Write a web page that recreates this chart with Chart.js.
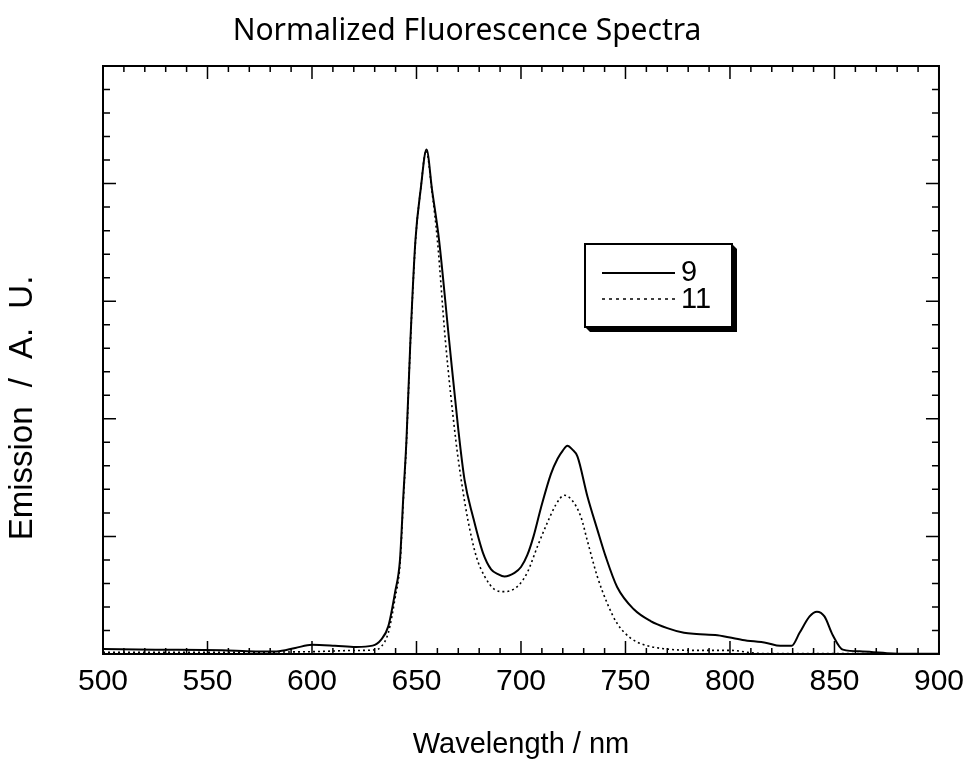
<!DOCTYPE html>
<html>
<head>
<meta charset="utf-8">
<script src="https://cdn.jsdelivr.net/npm/chart.js@4.4.1/dist/chart.umd.min.js"></script>
<style>
  html, body { margin: 0; padding: 0; background: #fff; }
  #wrap { width: 974px; height: 762px; position: relative; }
</style>
</head>
<body>
<div id="wrap"><canvas id="spectra"></canvas></div>
<script>
const chartTitle = 'Normalized Fluorescence Spectra';
const xTitle = 'Wavelength / nm';
const yTitle = 'Emission / A. U.';
const seriesNames = ['9', '11'];

// compound 9 (solid)
const wl9 = [500, 525, 557, 573, 583, 592, 600, 611, 621, 629, 633, 636.5, 639.7, 642.1, 643.7, 645.2, 647.1, 649.5, 652, 654.8, 657.5, 660.8, 665.6, 670, 673, 677, 681.8, 685.7, 689, 692.1, 696.9, 700, 703, 706, 709.5, 714.3, 717.5, 720, 722.2, 724.5, 727, 731.8, 736.5, 740.5, 746, 754, 762, 770, 778, 784, 794, 806, 817.5, 824, 829.5, 833.3, 838.1, 841.6, 845.2, 849.2, 854, 863.5, 878, 892, 900];
const em9 = [0.042, 0.037, 0.031, 0.022, 0.022, 0.051, 0.079, 0.071, 0.06, 0.071, 0.12, 0.235, 0.52, 0.80, 1.34, 1.82, 2.67, 3.52, 3.95, 4.29, 3.94, 3.52, 2.67, 1.91, 1.48, 1.17, 0.86, 0.72, 0.68, 0.66, 0.69, 0.74, 0.84, 1.0, 1.24, 1.53, 1.66, 1.73, 1.77, 1.74, 1.68, 1.34, 1.06, 0.83, 0.57, 0.38, 0.28, 0.22, 0.18, 0.17, 0.16, 0.12, 0.094, 0.07, 0.07, 0.18, 0.32, 0.36, 0.32, 0.16, 0.037, 0.022, 0.005, 0.002, 0.002];

// compound 11 (dotted)
const wl11 = [500, 550, 600, 620, 630, 633, 636.5, 639.7, 642.1, 643.7, 645.2, 647.1, 649.5, 652, 654.6, 657.5, 660, 663.8, 668.8, 671.4, 674.6, 678.6, 682.6, 687.3, 692.1, 695.2, 699.2, 703.2, 708, 712.7, 716.7, 720.7, 723.8, 728.6, 731.8, 736.5, 741.3, 746, 752.4, 758.8, 768.3, 784, 800, 814, 850, 900];
const em11 = [0.015, 0.015, 0.02, 0.03, 0.035, 0.06, 0.18, 0.47, 0.76, 1.30, 1.80, 2.65, 3.50, 3.95, 4.28, 3.92, 3.52, 2.67, 1.82, 1.48, 1.14, 0.83, 0.66, 0.55, 0.53, 0.54, 0.59, 0.70, 0.92, 1.12, 1.27, 1.35, 1.32, 1.17, 0.96, 0.66, 0.43, 0.26, 0.136, 0.079, 0.045, 0.031, 0.031, 0.005, 0.003, 0.002];

const toPoints = (xs, ys) => xs.map((x, i) => ({ x: x, y: ys[i] }));

// frame, inward ticks, title, y title, legend box
const decorations = {
  id: 'decorations',
  afterDraw(chart) {
    const ctx = chart.ctx;
    const a = chart.chartArea;
    const xs = chart.scales.x, ys = chart.scales.y;
    ctx.save();
    ctx.strokeStyle = '#000';
    ctx.lineWidth = 2;
    ctx.strokeRect(a.left, a.top, a.right - a.left, a.bottom - a.top);

    ctx.lineWidth = 1.5;
    ctx.beginPath();
    for (let v = 500; v <= 900; v += 10) {
      const px = xs.getPixelForValue(v);
      const len = v % 50 === 0 ? 13 : 6;
      ctx.moveTo(px, a.bottom); ctx.lineTo(px, a.bottom - len);
      ctx.moveTo(px, a.top); ctx.lineTo(px, a.top + len);
    }
    for (let k = 0; k <= 25; k++) {
      const py = ys.getPixelForValue(k * 0.2);
      const len = k % 5 === 0 ? 13 : 7;
      ctx.moveTo(a.left, py); ctx.lineTo(a.left + len, py);
      ctx.moveTo(a.right, py); ctx.lineTo(a.right - len, py);
    }
    ctx.stroke();

    // title
    ctx.fillStyle = '#000';
    ctx.font = '30px "Noto Sans"';
    ctx.textAlign = 'center';
    ctx.textBaseline = 'middle';
    ctx.fillText(chartTitle, 467, 31);

    // y title
    ctx.save();
    ctx.translate(23, 408);
    ctx.rotate(-Math.PI / 2);
    ctx.font = '33px "Liberation Sans"';
    ctx.wordSpacing = '10px';
    ctx.fillText(yTitle, 0, 0);
    ctx.restore();

    // legend box with drop shadow
    const bx = 585, by = 244, bw = 147, bh = 83, sh = 5;
    ctx.fillStyle = '#000';
    ctx.beginPath();
    ctx.moveTo(bx + bw, by);
    ctx.lineTo(bx + bw + sh, by + sh);
    ctx.lineTo(bx + bw + sh, by + bh + sh);
    ctx.lineTo(bx + sh, by + bh + sh);
    ctx.lineTo(bx, by + bh);
    ctx.closePath();
    ctx.fill();
    ctx.fillStyle = '#fff';
    ctx.fillRect(bx, by, bw, bh);
    ctx.lineWidth = 2;
    ctx.strokeRect(bx, by, bw, bh);

    const ds = chart.data.datasets;
    ctx.lineWidth = 1.8;
    ctx.setLineDash([]);
    ctx.beginPath(); ctx.moveTo(602, 273); ctx.lineTo(675, 273); ctx.stroke();
    ctx.lineWidth = 1.5;
    ctx.setLineDash([3, 4]);
    ctx.beginPath(); ctx.moveTo(602, 299); ctx.lineTo(675, 299); ctx.stroke();
    ctx.setLineDash([]);
    ctx.fillStyle = '#000';
    ctx.font = '29px "Liberation Sans"';
    ctx.textAlign = 'left';
    ctx.fillText(ds[0].label, 681, 273);
    ctx.fillText(ds[1].label, 681, 300);
    ctx.restore();
  }
};

new Chart(document.getElementById('spectra').getContext('2d'), {
  type: 'line',
  data: {
    datasets: [{
      label: seriesNames[0],
      data: toPoints(wl9, em9),
      borderColor: '#000',
      borderWidth: 2,
      pointRadius: 0,
      cubicInterpolationMode: 'monotone'
    }, {
      label: seriesNames[1],
      data: toPoints(wl11, em11),
      borderColor: '#000',
      borderWidth: 1.6,
      borderDash: [2, 3],
      pointRadius: 0,
      cubicInterpolationMode: 'monotone'
    }]
  },
  options: {
    responsive: true,
    maintainAspectRatio: false,
    animation: false,
    layout: { padding: { top: 66, right: 31, bottom: 0, left: 0 } },
    plugins: {
      legend: { display: false },
      title: { display: false },
      tooltip: { enabled: false }
    },
    scales: {
      x: {
        type: 'linear',
        min: 500,
        max: 900,
        grid: { display: false, drawTicks: false },
        border: { display: false },
        ticks: {
          stepSize: 50,
          padding: 10,
          color: '#000',
          font: { family: 'Liberation Sans', size: 30 }
        },
        title: {
          display: true,
          text: xTitle,
          color: '#000',
          font: { family: 'Liberation Sans', size: 29 },
          padding: { top: 0, bottom: 0 }
        },
        afterFit: (scale) => { scale.height = 108; }
      },
      y: {
        min: 0,
        max: 5,
        grid: { display: false, drawTicks: false },
        border: { display: false },
        ticks: { display: false },
        afterFit: (scale) => { scale.width = 103; }
      }
    }
  },
  plugins: [decorations]
});
</script>
</body>
</html>
